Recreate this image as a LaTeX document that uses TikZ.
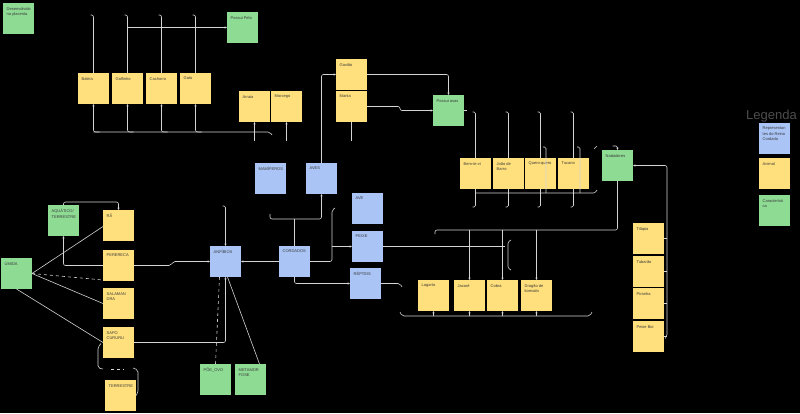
\documentclass[tikz,border=0pt]{standalone}
\usepackage{fontspec}
\setmainfont{Liberation Sans}
\usetikzlibrary{arrows.meta,calc}
\definecolor{yel}{HTML}{FFE07C}
\definecolor{grn}{HTML}{8EDB94}
\definecolor{blu}{HTML}{A9C4F5}
\definecolor{ln}{HTML}{D4D4D4}
\definecolor{tx}{HTML}{3A3A3A}
\definecolor{legc}{HTML}{4D4D4D}
\tikzset{
 box/.style={draw=none, minimum width=31pt, minimum height=31pt, inner sep=0, outer sep=0, anchor=north west},
 yb/.style={box, fill=yel}, gb/.style={box, fill=grn}, bb/.style={box, fill=blu},
 lbl/.style={anchor=north west, inner sep=0, font=\fontsize{4}{5.5}\selectfont, text=tx, align=left},
 con/.style={draw=ln, line width=0.6pt},
 arr/.style={con, -{Stealth[length=2.4pt,width=2.2pt]}},
}
\newcommand{\bx}[4]{\node[#1] (#2) at (#3) {}; \node[lbl] (#2-t) at ([xshift=3.5pt,yshift=-4pt]#2.north west) {#4};}
\begin{document}
\begin{tikzpicture}[x=1pt,y=-1pt]
\fill[black] (0,0) rectangle (800,413);
\useasboundingbox (0,0) rectangle (800,413);
% mammals
\bx{gb}{placenta}{3,3}{Desenvolvido\\na placenta}
\bx{gb}{pelo}{227,12}{Possui Pelo}
\bx{yb}{baleia}{78,73}{Baleia}
\bx{yb}{golfinho}{112,73}{Golfinho}
\bx{yb}{cachorro}{146,73}{Cachorro}
\bx{yb}{gato}{180,73}{Gato}
\bx{yb}{arraia}{239,91}{Arraia}
\bx{yb}{morcego}{271,91}{Morcego}
\bx{yb}{gaviao}{336,59}{Gavião}
\bx{yb}{manta}{336,91}{Manta}
% birds
\bx{gb}{asas}{433,95}{Possui asas}
\bx{yb}{bemtevi}{460,158}{Bem-te-vi}
\bx{yb}{joao}{493,158}{João de\\Barro}
\bx{yb}{quero}{525,158}{Quero-quero}
\bx{yb}{tucano}{558,158}{Tucano}
% fish
\bx{gb}{nada}{602,150}{Nadadores}
\bx{yb}{tilapia}{633,223}{Tilápia}
\bx{yb}{tubarao}{633,256}{Tubarão}
\bx{yb}{piranha}{633,288}{Piranha}
\bx{yb}{peixeboi}{633,321}{Peixe Boi}
% reptiles
\bx{yb}{lagarto}{418,280}{Lagarto}
\bx{yb}{jacare}{454,280}{Jacaré}
\bx{yb}{cobra}{487,280}{Cobra}
\bx{yb}{dragao}{521,280}{Dragão de\\komodo}
% classes
\bx{bb}{mamiferos}{255,163}{MAMÍFEROS}
\bx{bb}{aves}{306,163}{AVES}
\bx{bb}{ave}{352,193}{AVE}
\bx{bb}{peixe}{352,231}{PEIXE}
\bx{bb}{repteis}{350,268}{RÉPTEIS}
\bx{bb}{anfibios}{210,246}{ANFÍBIOS}
\bx{bb}{cordados}{279,246}{CORDADOS}
% amphibians
\bx{gb}{aquatico}{48,205}{AQUÁTICO/\\TERRESTRE}
\bx{gb}{umida}{1,258}{ÚMIDA}
\bx{yb}{ra}{103,210}{RÃ}
\bx{yb}{perereca}{103,250}{PERERECA}
\bx{yb}{salamandra}{103,288}{SALAMAN\\DRA}
\bx{yb}{sapo}{103,327}{SAPO\\CURURU}
\bx{yb}{terrestre}{105,380}{TERRESTRE}
\bx{gb}{poeovo}{200,364}{PÕE\_OVO}
\bx{gb}{metamorfose}{235,364}{METAMOR\\FOSE}
% legend
\node[anchor=base west, inner sep=0, font=\fontsize{13}{13}\selectfont, text=legc] (legenda) at (746,119) {Legenda};
\bx{bb}{lgb}{759,123}{Representan\\tes do Reino\\Cordado}
\bx{yb}{lgy}{759,158}{Animal}
\bx{gb}{lgg}{759,195}{Característi\\ca}

% ---------- connectors ----------
\coordinate (mtop) at (0,15);
\coordinate (mbus) at (0,132);
\coordinate (mbot) at (0,141);
\foreach \n in {baleia,golfinho,cachorro,gato}{
  \draw[con, rounded corners=2] (\n.north) -- (\n.north |- mtop) -- ++(-3,0);
  \draw[arr, rounded corners=2] ($(\n.south |- mbus)+(6,0)$) -| (\n.south);
}
\draw[con, rounded corners=2] (baleia.south |- mbus) -- (270,132) -- (272,135);
\draw[arr] (golfinho.north |- pelo.west) -- (pelo.west);
\draw[arr] (arraia.south |- mbot) -- (arraia.south);
\draw[arr] (morcego.south |- mbot) -- (morcego.south);
\draw[con] (manta.south) -- (manta.south |- mbot);
\draw[arr, rounded corners=2] (aves.north) |- (gaviao.west);
\draw[arr, rounded corners=2] (gaviao.east) -| (asas.north);
\draw[arr, rounded corners=2] (manta.east) -- (400,106.5) -- (400,110.5) -- (asas.west);
\draw[con] (asas.east) -- ++(3,0);
% birds
\coordinate (btop) at (0,112);
\coordinate (bh) at (0,193);
\coordinate (bbot) at (0,207);
\foreach \b in {bemtevi,joao,quero,tucano}{
  \draw[con, rounded corners=1.5] ($(\b.north |- btop)+(-3,0)$) -| (\b.north);
  \draw[con, rounded corners=1.5] (\b.south) |- ($(\b.south |- bbot)+(-3,0)$);
}
\draw[con, rounded corners=1.5] (bemtevi.south |- bh) -- (595,193) -- (597,190);
\draw[con, rounded corners=1.5] (543,147) -| (546,193);
\draw[con, rounded corners=1.5] (577,147) -| (580,193);
\draw[con, rounded corners=1.5] (594,149) -- (597,146);
\draw[arr, rounded corners=1.5] ($(nada.north)+(-5,-4)$) -| (nada.north);
% fish
\coordinate (nr) at (667,0);
\draw[arr, rounded corners=2] ($(peixeboi.east -| nr)+(-2,2)$) -- ($(peixeboi.east -| nr)$) -- (nr |- nada.east) -- (nada.east);
\foreach \f in {tilapia,tubarao,piranha}{
  \draw[con] (\f.east) -- (\f.east -| nr);
}
\draw[con] (peixeboi.east) -- (peixeboi.east -| nr);
\coordinate (rb) at (0,230);
\draw[con, rounded corners=2] (nada.south) |- (435,230) -- (435,234);
\foreach \r in {jacare,cobra,dragao}{
  \draw[arr] (\r.north |- rb) -- (\r.north);
}
\draw[con] (peixe.east) -- (505,246.5);
\draw[con, rounded corners=1.5] (511,240) -- (508,242) -- (508,268) -- (511,270);
% reptiles
\coordinate (rbot) at (0,316);
\draw[con, rounded corners=2] (repteis.east) -- (400,283.5) -- (402,287);
\draw[con, rounded corners=2] (400,312) -- (402,316) -- (590,316) -- (592,312);
\foreach \r in {lagarto,jacare,cobra,dragao}{
  \draw[arr] (\r.south |- rbot) -- (\r.south);
}
% cordados
\coordinate (ch) at (0,219);
\draw[arr] (cordados.west) -- (anfibios.east);
\draw[con] (cordados.north) -- (cordados.north |- ch);
\draw[arr, rounded corners=2] (270,214) -- (270,219) -- (aves.south |- ch) -- (aves.south);
\draw[con, rounded corners=2] (cordados.east) -- (332,261.5) -- (332,210) -- (335,208);
\draw[arr] (332,246.5) -- (peixe.west);
\draw[arr, rounded corners=2] (cordados.south) |- (repteis.west);
% amphibians
\coordinate (aq) at (0,202);
\draw[arr, rounded corners=2] (aquatico.north) |- (ra.north |- aq) -- (ra.north);
\draw[arr, rounded corners=2] (perereca.west) -| (aquatico.south);
\draw[arr, rounded corners=2] (perereca.east) -- (171,265.5) -- (173,261.5) -- (anfibios.west);
\draw[arr, rounded corners=1.5] ($(anfibios.north)+(-3,-40)$) -| (anfibios.north);
\draw[con] (umida.east) -- ($(ra.west)+(0,1)$);
\draw[con, dashed] (umida.east) -- ($(perereca.south west)+(0,-1)$);
\draw[con] (umida.east) -- (salamandra.west);
\draw[con] (umida.south) -- (sapo.west);
\draw[con, rounded corners=2] ($(sapo.west)+(-2,1)$) -- (98,347) -- (98,368) -- (103,369);
\draw[con, dashed] (111,369) -- (124,369);
\draw[con, rounded corners=2] (133,368) -- (138,370) -- (138,393) -- (terrestre.east);
\draw[arr, rounded corners=2] (sapo.east) -| (anfibios.south);
\draw[con, dashed] ($(anfibios.south)+(-6,0)$) -- (poeovo.north);
\draw[con] ($(anfibios.south)+(2,0)$) -- ($(metamorfose.north)+(9,0)$);
\end{tikzpicture}
\end{document}
